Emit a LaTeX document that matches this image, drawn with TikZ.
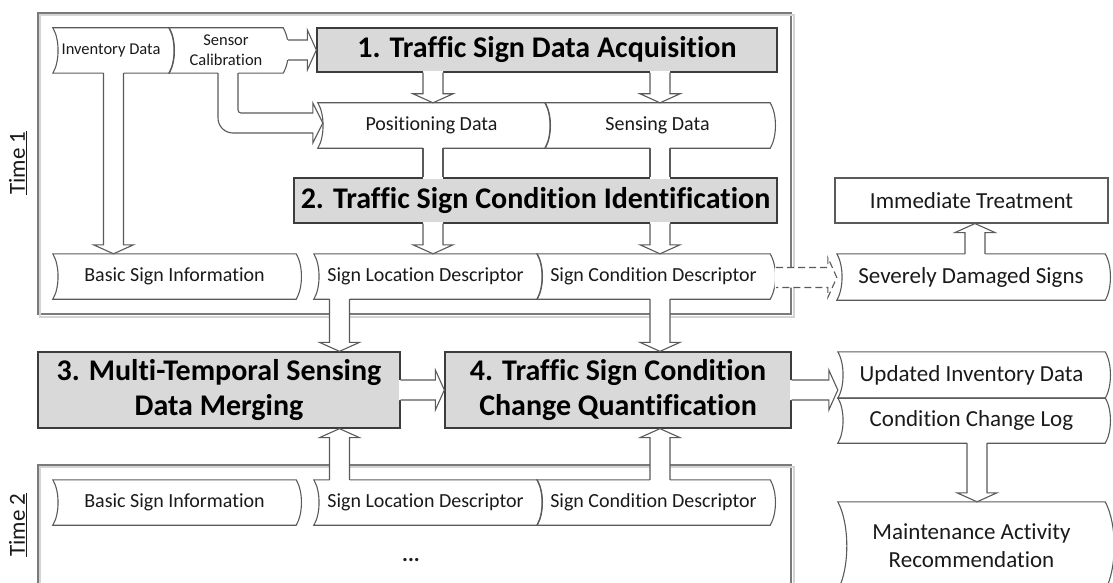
\documentclass[tikz,border=0pt]{standalone}
\usepackage{fontspec}
\setmainfont{Carlito}[Ligatures={NoCommon}]
\usetikzlibrary{calc}

\definecolor{linegray}{HTML}{5A5A5A}
\definecolor{boxline}{HTML}{3C3C3C}
\definecolor{boxfill}{HTML}{D9D9D9}
\definecolor{framegray}{HTML}{7A7A7A}
\definecolor{shadegray}{HTML}{D4D4D4}
\definecolor{inkgray}{HTML}{1A1A1A}

\newcommand\smallsz{\fontsize{16.5}{20}\selectfont}
\newcommand\midsz{\fontsize{20}{24}\selectfont}
\newcommand\largesz{\fontsize{23}{28}\selectfont}
\newcommand\boxsz{\fontsize{30}{35}\selectfont\bfseries}

\tikzset{
  storenode/.style={inner sep=0pt, text=inkgray, align=center},
  procbox/.style={draw=boxline, fill=boxfill, line width=1.3pt, inner sep=0pt,
    align=center, font=\boxsz, text=black},
  plainbox/.style={draw=linegray, line width=1.1pt, inner sep=0pt, text=inkgray,
    font=\largesz},
  storeline/.style={draw=linegray, line width=1.1pt},
  arrowline/.style={draw=linegray, line width=1.1pt, line join=miter},
  framebox/.style={draw=framegray, line width=1.3pt, inner sep=0pt},
  frameshade/.style={draw=shadegray, line width=1.6pt},
  timelabel/.style={rotate=90, font=\largesz, text=inkgray},
}

% outline of a stored-data node: both ends bent the same way
\newcommand\storeoutline[2][7]{%
  \draw[storeline] (#2.north west) -- (#2.north east)
    .. controls ($(#2.north east)!0.25!(#2.south east)+(#1,0)$)
       and ($(#2.north east)!0.75!(#2.south east)+(#1,0)$) .. (#2.south east)
    -- (#2.south west)
    .. controls ($(#2.north west)!0.75!(#2.south west)+(#1,0)$)
       and ($(#2.north west)!0.25!(#2.south west)+(#1,0)$) .. (#2.north west) -- cycle;}

% block arrow from a tail point to a tip point
\newcommand\blockarrow[3][]{%
  \coordinate (bT) at (#2);
  \coordinate (bP) at (#3);
  \coordinate (bB) at ($(bP)!9pt!(bT)$);
  \coordinate (bE) at ($(bT)!-1.5pt!(bP)$);
  \fill[white] ($(bE)!10pt!90:(bP)$) -- ($(bB)!10pt!90:(bP)$) -- ($(bB)!20pt!90:(bP)$)
    -- (bP) -- ($(bB)!20pt!-90:(bP)$) -- ($(bB)!10pt!-90:(bP)$) -- ($(bE)!10pt!-90:(bP)$) -- cycle;
  \draw[arrowline,#1] ($(bT)!10pt!90:(bP)$) -- ($(bB)!10pt!90:(bP)$) -- ($(bB)!20pt!90:(bP)$)
    -- (bP) -- ($(bB)!20pt!-90:(bP)$) -- ($(bB)!10pt!-90:(bP)$) -- ($(bT)!10pt!-90:(bP)$);}

% wide connector without a head
\newcommand\blockshaft[2]{%
  \coordinate (sT) at (#1);
  \coordinate (sP) at (#2);
  \coordinate (sA) at ($(sT)!-1.5pt!(sP)$);
  \coordinate (sZ) at ($(sP)!-1.5pt!(sT)$);
  \fill[white] ($(sA)!10pt!90:(sZ)$) -- ($(sZ)!10pt!-90:(sA)$) -- ($(sZ)!10pt!90:(sA)$) -- ($(sA)!10pt!-90:(sZ)$) -- cycle;
  \draw[arrowline] ($(sT)!10pt!90:(sP)$) -- ($(sP)!10pt!-90:(sT)$);
  \draw[arrowline] ($(sT)!10pt!-90:(sP)$) -- ($(sP)!10pt!90:(sT)$);}

\begin{document}
\begin{tikzpicture}[x=1pt,y=-1pt]
\useasboundingbox (0,0) rectangle (1113,583);

% ---------- time frames ----------
\node[framebox, minimum width=753pt, minimum height=301pt] (frame1) at (414.5,163.5) {};
\draw[frameshade] ($(frame1.north west)+(2.5,2.5)$) rectangle ($(frame1.south east)+(2.5,2.5)$);
\node[framebox, minimum width=753pt, minimum height=145pt] (frame2) at (414.5,537.5) {};
\draw[frameshade] ($(frame2.north west)+(2.5,2.5)$) rectangle ($(frame2.south east)+(2.5,2.5)$);
\node[timelabel] (time1) at (18,163) {\underline{Time 1}};
\node[timelabel] (time2) at (18,525) {\underline{Time 2}};

% ---------- inputs ----------
\node[storenode, font=\smallsz, minimum width=116pt, minimum height=45pt] (inv) at (111,50.5) {Inventory Data};
\node[storenode, font=\smallsz, minimum width=114pt, minimum height=45pt] (calib) at (226,50.5) {Sensor\\Calibration};
\storeoutline{inv}
\storeoutline{calib}

% ---------- processing steps ----------
\node[procbox, minimum width=460pt, minimum height=44pt] (acq) at (547,50) {1. Traffic Sign Data Acquisition};
\node[procbox, minimum width=483pt, minimum height=45pt] (ident) at (535.5,200.5) {2. Traffic Sign Condition Identification};
\node[procbox, minimum width=362pt, minimum height=76pt] (merge) at (219,390) {3. Multi-Temporal Sensing\\Data Merging};
\node[procbox, minimum width=346pt, minimum height=76pt] (quant) at (618,390) {4. Traffic Sign Condition\\Change Quantification};

% ---------- collected data ----------
\node[storenode, font=\midsz, minimum width=227pt, minimum height=45pt] (pos) at (431.5,125.5) {Positioning Data};
\node[storenode, font=\midsz, minimum width=225pt, minimum height=45pt] (sens) at (657.5,125.5) {Sensing Data};
\storeoutline{pos}
\storeoutline{sens}

% ---------- time 1 descriptors ----------
\node[storenode, font=\midsz, minimum width=243pt, minimum height=45pt] (basicA) at (174.5,276.5) {Basic Sign Information};
\node[storenode, font=\midsz, minimum width=223pt, minimum height=45pt] (locA) at (425.5,276.5) {Sign Location Descriptor};
\node[storenode, font=\midsz, minimum width=233pt, minimum height=45pt] (condA) at (653.5,276.5) {Sign Condition Descriptor};
\storeoutline{basicA}
\storeoutline{locA}
\storeoutline{condA}

% ---------- time 2 descriptors ----------
\node[storenode, font=\midsz, minimum width=243pt, minimum height=45pt] (basicB) at (174.5,502.5) {Basic Sign Information};
\node[storenode, font=\midsz, minimum width=223pt, minimum height=45pt] (locB) at (425.5,502.5) {Sign Location Descriptor};
\node[storenode, font=\midsz, minimum width=233pt, minimum height=45pt] (condB) at (653.5,502.5) {Sign Condition Descriptor};
\storeoutline{basicB}
\storeoutline{locB}
\storeoutline{condB}
\node[font=\fontsize{22}{26}\selectfont\bfseries, text=inkgray] (more) at (411,560) {...};

% ---------- outputs ----------
\node[plainbox, minimum width=273pt, minimum height=45pt] (treat) at (971.5,200.5) {Immediate Treatment};
\node[storenode, font=\largesz, minimum width=268pt, minimum height=46pt] (severe) at (971,277) {Severely Damaged Signs};
\node[storenode, font=\largesz, minimum width=267pt, minimum height=46pt] (update) at (971.5,375) {Updated Inventory Data};
\node[storenode, font=\largesz, minimum width=267pt, minimum height=45pt] (clog) at (971.5,420.5) {Condition Change Log};
\node[storenode, font=\largesz, minimum width=267pt, minimum height=88pt] (maint) at (971.5,546) {Maintenance Activity\\Recommendation};
\storeoutline{severe}
\storeoutline{update}
\storeoutline{clog}
\storeoutline[12]{maint}

% ---------- connectors ----------
\blockarrow{113.5,0 |- inv.south}{113.5,0 |- basicA.north}
\blockarrow{$(calib.east |- acq.west)+(5,0)$}{acq.west}

% bent connector from the calibration data to the positioning data
\coordinate (cb) at (228,0 |- calib.south);
\coordinate (ct) at ($(pos.west)+(5,-2.5)$);
\fill[white] ($(cb)+(-10,-1.5)$) [rounded corners=15pt] -- ($(cb |- ct)+(-10,10)$) [sharp corners]
  -- ($(ct)+(-10,10)$) -- ($(ct)+(-10,20)$) -- (ct) -- ($(ct)+(-10,-20)$) -- ($(ct)+(-10,-10)$)
  [rounded corners=3pt] -- ($(cb |- ct)+(10,-10)$) [sharp corners] -- ($(cb)+(10,-1.5)$) -- cycle;
\draw[arrowline] ($(cb)+(-10,0)$) [rounded corners=15pt] -- ($(cb |- ct)+(-10,10)$) [sharp corners]
  -- ($(ct)+(-10,10)$) -- ($(ct)+(-10,20)$) -- (ct) -- ($(ct)+(-10,-20)$) -- ($(ct)+(-10,-10)$)
  [rounded corners=3pt] -- ($(cb |- ct)+(10,-10)$) [sharp corners] -- ($(cb)+(10,0)$);

\blockarrow{433,0 |- acq.south}{433,0 |- pos.north}
\blockarrow{660,0 |- acq.south}{660,0 |- sens.north}
\blockshaft{433,0 |- pos.south}{433,0 |- ident.north}
\blockshaft{660,0 |- sens.south}{660,0 |- ident.north}
\blockarrow{433,0 |- ident.south}{433,0 |- locA.north}
\blockarrow{660,0 |- ident.south}{660,0 |- condA.north}

\blockarrow[dashed, dash pattern=on 7pt off 4pt]{$(condA.east)+(6,1)$}{$(severe.west)+(0,0.5)$}
\blockarrow{975,0 |- severe.north}{975,0 |- treat.south}

\blockarrow{339.5,0 |- locA.south}{339.5,0 |- merge.north}
\blockarrow{660,0 |- condA.south}{660,0 |- quant.north}
\blockarrow{339.5,0 |- locB.north}{339.5,0 |- merge.south}
\blockarrow{660,0 |- condB.north}{660,0 |- quant.south}

\blockarrow{merge.east}{quant.west}
\blockarrow{quant.east}{quant.east -| update.west}
\blockarrow{977,0 |- clog.south}{977,0 |- maint.north}
\end{tikzpicture}
\end{document}
